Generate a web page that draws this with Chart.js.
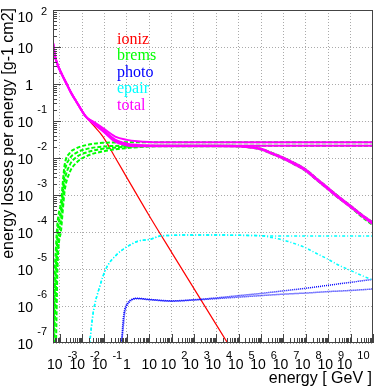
<!DOCTYPE html>
<html>
<head>
<meta charset="utf-8">
<script src="https://cdn.jsdelivr.net/npm/chart.js@4.4.0/dist/chart.umd.min.js"></script>
<style>
  html, body { margin: 0; padding: 0; background: #fff; }
</style>
</head>
<body>
<canvas id="chart" width="374" height="388"></canvas>
<script>
// Axis decades (exponents) that get a label
const xTickExps = [-3, -2, -1, 0, 1, 2, 3, 4, 5, 6, 7, 8, 9, 10];
const yTickExps = [-7, -6, -5, -4, -3, -2, -1, 0, 1, 2];

const legendLabels = ["ioniz", "brems", "photo", "epair", "total"];
const legendColors = ["#ff0000", "#00ff00", "#0000ff", "#00ffff", "#ff00ff"];

// ionisation
const ionizE = [5e-4, 6e-4, 8e-4, 1.2e-3, 2e-3, 3.3e-3, 5.5e-3, 9e-3, 1.5e-2, 3e-2, 8.5e-2, 0.3, 1, 10, 100, 1e3, 1e4, 1e5];
const ionizV = [13.2, 6.03, 3.33, 1.91, 1.03, 0.562, 0.336, 0.204, 0.129, 0.0794, 0.038, 0.01035, 2.95e-3, 2.75e-4, 2.82e-5, 2.95e-6, 3.09e-7, 3.24e-8];

// bremsstrahlung
const bremsE = [5.1e-4, 5.6e-4, 6.8e-4, 7.9e-4, 1.17e-3, 1.4e-3, 1.65e-3, 2.75e-3, 5.5e-3, 1.55e-2, 8.5e-2, 1, 10,
  100, 1e3, 1e4, 1e5, 1e6, 3e6, 1e7, 3e7, 1e8, 3e8, 1e9, 3e9, 1e10, 3e10, 1e11];
const brems1 = [8e-8, 2.69e-6, 3.98e-5, 1.70e-4, 7.24e-4, 2.51e-3, 6.46e-3, 0.0135, 0.0182, 0.0224, 0.0258, 0.0265, 0.0265,
  0.0265, 0.0265, 0.0265, 0.0265, 0.0265, 0.0265, 0.0265, 0.0265, 0.0265, 0.0265, 0.0265, 0.0265, 0.0265, 0.0265, 0.0265];
const brems2 = [5e-8, 6.31e-7, 1.26e-5, 7.94e-5, 4.47e-4, 1.41e-3, 3.98e-3, 9.55e-3, 0.0138, 0.0174, 0.0204, 0.0214, 0.0215,
  0.0215, 0.0215, 0.0215, 0.0211, 0.0178, 0.0138, 0.0102, 7.41e-3, 4.90e-3, 2.79e-3, 1.55e-3, 8.91e-4, 5.13e-4, 3.02e-4, 1.80e-4];
const brems3 = [1e-8, 1e-7, 3.16e-6, 3.16e-5, 2.51e-4, 7.94e-4, 2.24e-3, 6.31e-3, 0.0105, 0.0141, 0.0178, 0.0200, 0.0211,
  0.0215, 0.0215, 0.0215, 0.0215, 0.0215, 0.0215, 0.0215, 0.0215, 0.0215, 0.0215, 0.0215, 0.0215, 0.0215, 0.0215, 0.0215];
const brems4 = [1e-9, 1e-8, 1e-7, 1e-5, 1.26e-4, 4.47e-4, 1.26e-3, 3.98e-3, 7.41e-3, 0.0112, 0.0151, 0.0186, 0.0204,
  0.0209, 0.0209, 0.0209, 0.0203, 0.0169, 0.0129, 9.55e-3, 6.76e-3, 4.47e-3, 2.57e-3, 1.41e-3, 8.13e-4, 4.68e-4, 2.63e-4, 1.51e-4];

// photonuclear
const photoE = [5e-4, 0.56, 0.68, 0.79, 0.95, 1.32, 2.63, 10, 100, 1e3, 1e4, 1e5, 1e6, 1e7, 1e8, 1e9, 1e10, 1e11];
const photo1 = [1e-7, 1e-7, 4.17e-7, 7.76e-7, 1.07e-6, 1.38e-6, 1.62e-6, 1.51e-6, 1.38e-6, 1.48e-6, 1.66e-6, 1.91e-6, 2.19e-6, 2.57e-6, 3.02e-6, 3.63e-6, 4.37e-6, 5.25e-6];
const photo2 = [1e-7, 1e-7, 2.51e-7, 6.31e-7, 9.55e-7, 1.29e-6, 1.58e-6, 1.48e-6, 1.35e-6, 1.45e-6, 1.58e-6, 1.74e-6, 1.91e-6, 2.09e-6, 2.24e-6, 2.45e-6, 2.63e-6, 2.88e-6];

// pair production
const epairE = [0.021, 0.031, 0.061, 0.12, 0.34, 1.9, 3.7, 10.5, 30, 100, 1e3, 1e4, 1e5, 1e6,
  3e6, 1e7, 3e7, 1e8, 3e8, 1e9, 3e9, 1e10, 3e10, 1e11];
const epair1 = [8e-8, 6.31e-7, 3.31e-6, 1.05e-5, 2.40e-5, 4.95e-5, 5.82e-5, 6.31e-5, 7.76e-5, 8.13e-5, 8.32e-5, 8.32e-5, 8.13e-5, 7.94e-5,
  7.80e-5, 7.80e-5, 7.80e-5, 7.80e-5, 7.80e-5, 7.80e-5, 7.80e-5, 7.80e-5, 7.80e-5, 7.80e-5];
const epair2 = [8e-8, 6.31e-7, 3.31e-6, 1.05e-5, 2.40e-5, 4.95e-5, 5.82e-5, 6.31e-5, 7.76e-5, 8.13e-5, 8.32e-5, 8.32e-5, 8.13e-5, 7.94e-5,
  7.08e-5, 6.03e-5, 4.90e-5, 3.72e-5, 2.63e-5, 1.82e-5, 1.26e-5, 9.12e-6, 6.76e-6, 5.01e-6];

// total
const totalE = [5e-4, 6e-4, 8e-4, 1.2e-3, 2e-3, 3.3e-3, 5.5e-3, 9e-3, 1.5e-2, 3e-2, 8.5e-2, 0.3, 1, 3, 10,
  100, 1e3, 1e4, 1e5, 1e6, 3e6, 1e7, 3e7, 1e8, 3e8, 1e9, 3e9, 1e10, 3e10, 1e11];
const total1 = [13.2, 6.03, 3.33, 1.91, 1.03, 0.562, 0.336, 0.204, 0.129, 0.0977, 0.0646, 0.0380, 0.0309, 0.0282, 0.0270,
  0.0265, 0.0265, 0.0265, 0.0265, 0.0265, 0.0265, 0.0265, 0.0265, 0.0265, 0.0265, 0.0265, 0.0265, 0.0265, 0.0265, 0.0265];
const total2 = [13.2, 6.03, 3.33, 1.91, 1.03, 0.562, 0.336, 0.204, 0.129, 0.0933, 0.0582, 0.0316, 0.0245, 0.0225, 0.0218,
  0.0215, 0.0215, 0.0215, 0.0211, 0.0178, 0.0138, 0.0102, 7.41e-3, 4.90e-3, 2.79e-3, 1.55e-3, 8.91e-4, 5.13e-4, 3.02e-4, 1.80e-4];
const total3 = [13.2, 6.03, 3.33, 1.91, 1.03, 0.562, 0.336, 0.204, 0.129, 0.0902, 0.0555, 0.0292, 0.0232, 0.0216, 0.0215,
  0.0215, 0.0215, 0.0215, 0.0215, 0.0215, 0.0215, 0.0215, 0.0215, 0.0215, 0.0215, 0.0215, 0.0215, 0.0215, 0.0215, 0.0215];
const total4 = [13.2, 6.03, 3.33, 1.91, 1.03, 0.562, 0.336, 0.204, 0.129, 0.0871, 0.0528, 0.0275, 0.0219, 0.0207, 0.0207,
  0.0209, 0.0209, 0.0209, 0.0203, 0.0169, 0.0129, 9.55e-3, 6.76e-3, 4.47e-3, 2.57e-3, 1.41e-3, 8.13e-4, 4.68e-4, 2.75e-4, 1.62e-4];

const SANS = '"Liberation Sans", Arial, Helvetica, sans-serif';
const SERIF = '"Liberation Serif", "Times New Roman", serif';

function pts(es, vs) {
  return es.map((e, i) => ({ x: e, y: vs[i] }));
}

function line(es, vs, color, width, dash) {
  return {
    data: pts(es, vs),
    borderColor: color,
    borderWidth: width,
    borderDash: dash,
    pointRadius: 0,
    fill: false,
    cubicInterpolationMode: "monotone"
  };
}

// first in list is drawn on top
const datasets = [
  line(totalE, total1, "#ff00ff", 2, []),
  line(totalE, total2, "#ff00ff", 2, []),
  line(totalE, total3, "#ff00ff", 2, []),
  line(totalE, total4, "#ff00ff", 2, []),
  line(epairE, epair1, "#00ffff", 1.5, [3, 2, 1, 2]),
  line(epairE, epair2, "#00ffff", 1.5, [3, 2, 1, 2]),
  line(photoE, photo1, "#0000ff", 1.5, [1, 1]),
  line(photoE, photo2, "#0000ff", 1.5, [1, 1]),
  line(bremsE, brems1, "#00ff00", 2, [4, 2]),
  line(bremsE, brems2, "#00ff00", 2, [4, 2]),
  line(bremsE, brems3, "#00ff00", 2, [4, 2]),
  line(bremsE, brems4, "#00ff00", 2, [4, 2]),
  line(ionizE, ionizV, "#ff0000", 1.2, [])
];

// ROOT-like frame, inside tick marks, power-of-ten labels, titles and legend
const rootStyle = {
  id: "rootStyle",
  afterDraw(chart) {
    const { ctx, chartArea: a } = chart;
    const xs = chart.scales.x, ys = chart.scales.y;
    ctx.save();
    ctx.strokeStyle = "#444";
    ctx.lineWidth = 1;
    ctx.setLineDash([]);
    ctx.strokeRect(a.left + 0.5, a.top + 0.5, a.right - a.left - 1, a.bottom - a.top - 1);

    // tick marks
    ctx.beginPath();
    for (let d = -4; d <= 11; d++) {
      for (let k = 1; k <= 9; k++) {
        const v = k * Math.pow(10, d);
        const len = k === 1 ? 9 : 5;
        if (v >= xs.min && v <= xs.max) {
          const px = Math.round(xs.getPixelForValue(v)) + 0.5;
          ctx.moveTo(px, a.bottom);
          ctx.lineTo(px, a.bottom - len);
        }
        if (v >= ys.min && v <= ys.max) {
          const py = Math.round(ys.getPixelForValue(v)) + 0.5;
          ctx.moveTo(a.left, py);
          ctx.lineTo(a.left + len - 1, py);
        }
      }
    }
    ctx.stroke();

    ctx.fillStyle = "#000";
    const base = "14px " + SANS, sup = "11px " + SANS;

    // x labels
    xTickExps.forEach(p => {
      const px = xs.getPixelForValue(Math.pow(10, p));
      ctx.textBaseline = "alphabetic";
      if (p === 0 || p === 1) {
        ctx.font = base;
        ctx.textAlign = "center";
        ctx.fillText(p === 0 ? "1" : "10", px, 369);
        return;
      }
      const ex = String(p);
      ctx.font = base;
      const wb = ctx.measureText("10").width;
      ctx.font = sup;
      const we = ctx.measureText(ex).width;
      const start = px - (wb + we) / 2;
      ctx.textAlign = "left";
      ctx.font = base;
      ctx.fillText("10", start, 369);
      ctx.font = sup;
      ctx.fillText(ex, start + wb + 5, 359);
    });

    // y labels (top one is pushed down to stay on the canvas)
    yTickExps.forEach(p => {
      const py = ys.getPixelForValue(Math.pow(10, p));
      ctx.textAlign = "right";
      ctx.font = base;
      const bl = Math.max(py + 6, 22);
      ctx.fillText(p === 0 ? "1" : "10", 33, bl);
      if (p !== 0 && p !== 1) {
        ctx.font = sup;
        ctx.fillText(String(p), 47, Math.max(bl - 14, 15));
      }
    });

    // axis titles
    ctx.font = "16px " + SANS;
    ctx.textAlign = "right";
    ctx.fillText("energy [ GeV ]", 372, 383);
    ctx.save();
    ctx.translate(13, 8);
    ctx.rotate(-Math.PI / 2);
    ctx.fillText("energy losses per energy [g-1 cm2]", 0, 0);
    ctx.restore();

    // legend
    ctx.font = "16px " + SERIF;
    ctx.textAlign = "left";
    legendLabels.forEach((t, i) => {
      ctx.fillStyle = legendColors[i];
      ctx.fillText(t, 117, 43.5 + i * 16.6);
    });
    ctx.restore();
  }
};

new Chart(document.getElementById("chart"), {
  type: "line",
  data: { datasets: datasets },
  options: {
    responsive: false,
    animation: false,
    devicePixelRatio: 1,
    layout: { padding: { top: 10, right: 1, left: 0, bottom: 0 } },
    plugins: { legend: { display: false }, tooltip: { enabled: false } },
    scales: {
      x: {
        type: "logarithmic",
        min: 5e-4,
        max: 1e11,
        afterBuildTicks: s => { s.ticks = xTickExps.map(p => ({ value: Math.pow(10, p) })); },
        afterFit: s => { s.height = 45; },
        ticks: { display: false },
        grid: { color: "#aaaaaa", lineWidth: 1, drawTicks: false },
        border: { display: false, dash: [1, 2] }
      },
      y: {
        type: "logarithmic",
        min: 1e-7,
        max: 1e2,
        afterBuildTicks: s => { s.ticks = yTickExps.map(p => ({ value: Math.pow(10, p) })); },
        afterFit: s => { s.width = 53; },
        ticks: { display: false },
        grid: { color: "#aaaaaa", lineWidth: 1, drawTicks: false },
        border: { display: false, dash: [1, 2] }
      }
    }
  },
  plugins: [rootStyle]
});
</script>
</body>
</html>
